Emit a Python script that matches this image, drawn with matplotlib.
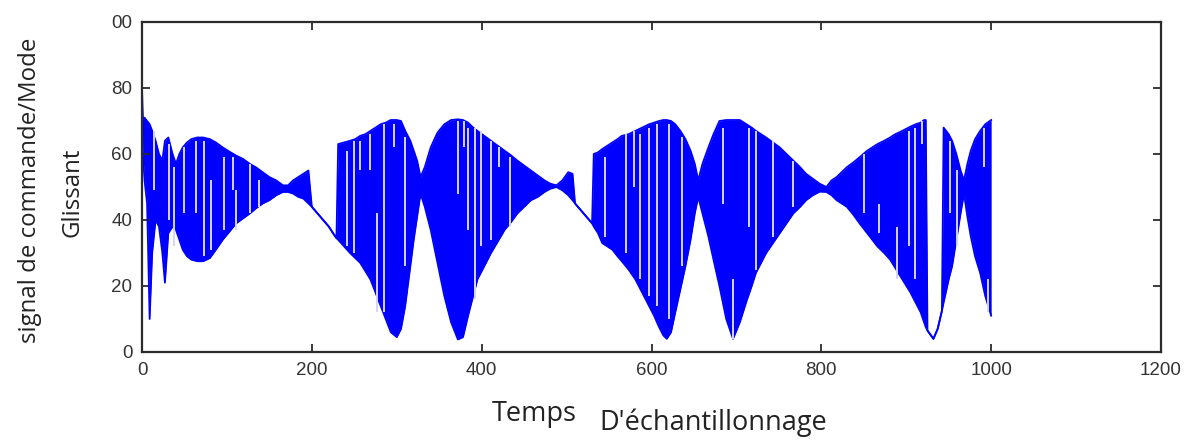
import matplotlib
matplotlib.use("Agg")
import matplotlib.pyplot as plt
import numpy as np

# upper / lower envelope of the sliding-mode command signal
t = [0, 1, 3, 6, 9, 12, 16, 20, 24, 27, 31, 36, 40, 44, 48, 53, 58, 65, 72, 80,
     87, 95, 103, 111, 119, 127, 134, 142, 150, 158, 166, 172, 178, 184, 190, 196,
     200, 205, 210, 215, 220, 225, 229, 231, 238, 245, 251, 257, 263, 269, 275, 281,
     287, 293, 300, 305, 310, 316, 320, 324, 328, 333, 340, 348, 356, 364, 372, 378,
     384, 390, 395, 403, 411, 419, 427, 435, 442, 450, 458, 466, 474, 481, 488, 495,
     502, 507, 510, 515, 520, 525, 530, 532, 537, 542, 548, 554, 560, 565, 573, 581,
     589, 597, 603, 609, 614, 618, 623, 628, 634, 640, 646, 651, 655, 660, 667, 673,
     680, 688, 696, 704, 712, 718, 723, 729, 735, 743, 751, 759, 767, 775, 782, 790,
     798, 806, 812, 818, 824, 830, 838, 845, 854, 860, 866, 874, 881, 887, 893, 899,
     905, 911, 917, 921, 923, 925, 932, 937, 942, 944, 950, 954, 959, 964, 968, 972,
     976, 981, 987, 993, 1000]
hi = [80, 71, 71, 70, 69, 67, 64, 60, 58, 64, 65, 60, 57, 60, 62, 63.5, 64.5, 65, 65, 64.5,
      63.5, 62, 60.7, 59.5, 58.5, 57, 56, 54.5, 53, 52, 50.5, 50.5, 52, 53, 54, 55,
      44, 42.5, 41, 39.5, 38, 36, 34.5, 63, 63.5, 64, 64.5, 65.5, 66, 67, 68, 69,
      69.5, 70.3, 70.3, 70, 67, 64, 61, 58, 53, 56, 62, 66.5, 69, 70.3, 70.5, 70.3,
      69.5, 68, 67, 65.5, 64, 62.5, 61, 59.5, 58, 56.5, 55, 53.5, 52, 51, 50.5, 52,
      54.5, 54, 45, 43.5, 42, 40.5, 39, 60, 60.5, 61.5, 62.5, 63.5, 64.5, 65.5, 66, 67,
      68, 69, 69.5, 70, 70.3, 70.3, 70, 69, 67, 64.5, 61, 57, 52, 57, 62, 66,
      70, 70.3, 70.3, 70.3, 69, 68, 67, 66, 65, 63.5, 62, 60, 58, 56, 54, 52.5,
      51, 50, 52, 53, 54.5, 56, 57.5, 59, 61, 62, 63, 64, 65, 66, 66.7, 67.5,
      68.3, 69, 69.5, 70.3, 70.3, 6.5, 4, 7, 12.5, 68, 66, 64, 60, 55, 52, 57,
      61, 64.5, 67, 69, 70.3]
lo = [70, 60, 52, 45, 10, 30, 40, 38, 30, 21, 36, 38, 37, 34, 31, 29, 28, 27.5, 27.5, 28.5,
      31, 34, 36.5, 39, 40.5, 42, 43.5, 45, 46, 47.5, 48.5, 48.5, 48, 47, 46.5, 45,
      44, 42.5, 41, 39.5, 38, 36, 34.5, 34, 32, 30, 28.5, 27, 24.5, 22, 18, 14,
      10, 6, 4.5, 7, 14, 26, 34, 41, 48, 44, 37, 27, 17, 9, 3.8, 4.5,
      11, 17, 22, 26, 30, 33.5, 37, 39.5, 42, 44, 46, 47, 48.5, 49.5, 50, 49,
      47.5, 46, 45, 43.5, 42, 40.5, 39, 38, 36, 33, 32, 31, 29, 27.5, 25, 22,
      18, 14, 11, 7.5, 5, 4, 6, 12, 19, 26, 34, 42, 47, 42, 35, 28,
      20, 10, 4, 9, 15.5, 20, 24, 27, 30, 33, 36, 39, 42, 44, 46, 47.5,
      48.6, 48.5, 47.5, 46, 45, 44, 41.5, 39, 36, 34, 32, 30, 28, 25.5, 23, 20.5,
      18, 15, 12, 9, 7.5, 6.5, 4, 7, 12.5, 15, 22, 26, 34, 42, 48, 41,
      35, 29, 24, 17, 11]

# light vertical gaps between switching strokes (sample, bottom, top)
gap_t = [14.5, 32, 38, 50, 63.7, 73.5, 81, 96, 107, 111, 126.6, 138,
         241.5, 250, 257, 269, 277, 285, 296.5, 310,
         372, 379, 384, 392, 399.5, 411.4, 421, 433,
         545.6, 570, 579, 587, 597, 607, 620.5, 636,
         684, 696, 715, 723, 743, 767,
         850, 867.5, 889, 903, 910.7, 918.6, 952, 960, 991, 996.6]
gap_lo = [49, 40, 32, 42, 42, 29, 31, 37, 49, 37, 42, 44,
          32, 30, 55, 55, 12, 12, 62, 26,
          48, 62, 37, 16, 32, 34, 56, 38,
          35, 30, 50, 22, 17, 14, 10, 26,
          45, 4, 38, 25, 35, 44,
          42, 36, 22, 32, 22, 63, 42, 32, 56, 12]
gap_hi = [67, 63, 56, 62, 64, 64, 52, 59, 59, 49, 57, 52,
          61, 64, 64, 66, 42, 69, 69, 65,
          70, 70, 68, 68, 67, 64, 62, 59,
          59, 66, 67, 66, 68, 69, 69, 65,
          68, 22, 68, 67, 64, 58,
          60, 45, 38, 67, 68, 70, 64, 55, 68, 22]

xticks = [0, 200, 400, 600, 800, 1000, 1200]
yticks = [0, 20, 40, 60, 80, 100]
ytick_labels = ['0', '20', '40', '60', '80', '00']

blue = '#0000ff'
frame = '#2b2b2b'

fig = plt.figure(figsize=(11.89, 4.41), dpi=100)
ax = fig.add_axes([142 / 1189, 89 / 441, (1161 - 142) / 1189, (352 - 22) / 441])

ax.fill_between(t, lo, hi, color=blue, linewidth=0)
ax.plot(t, hi, color=blue, lw=1.3)
ax.plot(t, lo, color=blue, lw=1.3)
ax.vlines(gap_t, gap_lo, gap_hi, color='#d4d4ff', lw=1.4)

ax.set_xlim(0, 1200)
ax.set_ylim(0, 100)
ax.set_xticks(xticks)
ax.set_xticklabels([str(v) for v in xticks])
ax.set_yticks(yticks)
ax.set_yticklabels(ytick_labels)

for lab in ax.get_xticklabels() + ax.get_yticklabels():
    lab.set_fontfamily(['Liberation Sans', 'DejaVu Sans'])
    lab.set_fontsize(13.5)
    lab.set_color('#333333')

ax.tick_params(direction='in', length=6, width=1.3, color=frame,
               top=True, right=True, pad=7)
for s in ax.spines.values():
    s.set_color(frame)
    s.set_linewidth(1.6)

lab_font = ['Open Sans', 'DejaVu Sans']
fig.text(534 / 1189, 1 - 414 / 441, 'Temps', ha='center', va='center',
         fontsize=19.5, family=lab_font, color='#222222')
fig.text(713 / 1189, 1 - 423 / 441, "D'échantillonnage", ha='center', va='center',
         fontsize=19.5, family=lab_font, color='#222222')
fig.text(30 / 1189, 1 - 190 / 441, 'signal de commande/Mode', ha='center', va='center',
         rotation=90, fontsize=17.3, family=lab_font, color='#222222')
fig.text(72 / 1189, 1 - 192 / 441, 'Glissant', ha='center', va='center',
         rotation=90, fontsize=17.3, family=lab_font, color='#222222')

fig.savefig('out.png', dpi=100)
